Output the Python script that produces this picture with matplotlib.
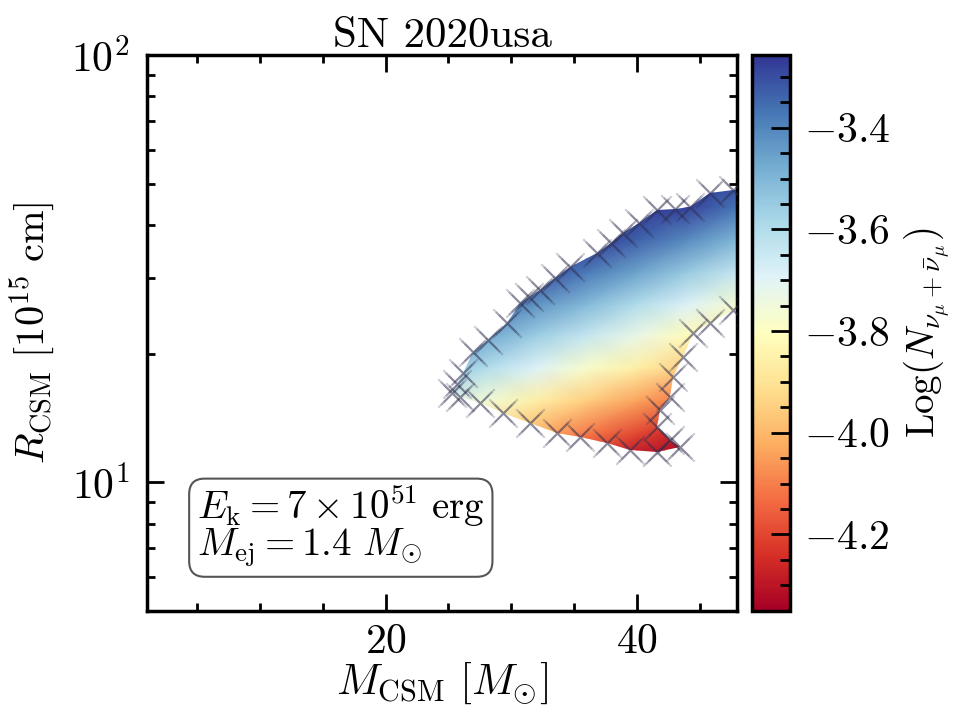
import numpy as np
import matplotlib
matplotlib.use("Agg")
import matplotlib.pyplot as plt
from matplotlib.patches import Polygon
from matplotlib.ticker import MultipleLocator, LogLocator, NullFormatter

plt.rcParams['font.family'] = 'serif'
plt.rcParams['font.serif'] = ['cmr10', 'DejaVu Serif']
plt.rcParams['mathtext.fontset'] = 'cm'
plt.rcParams['axes.formatter.use_mathtext'] = True

# ---------------- data ----------------
title = "SN 2020usa"
# value grid nodes (M_CSM in Msun, R_CSM in 1e15 cm)
m_nodes = [24, 28, 32, 36, 40, 44, 48]
r_nodes = [11, 13, 15.5, 18.5, 22, 26, 31, 37, 44, 52]
logN = [
    [-3.95, -4.05, -4.15, -4.25, -4.34, -4.42, -4.50],
    [-3.82, -3.92, -4.01, -4.11, -4.20, -4.28, -4.36],
    [-3.67, -3.76, -3.86, -3.95, -4.04, -4.12, -4.20],
    [-3.52, -3.60, -3.69, -3.78, -3.86, -3.95, -4.04],
    [-3.38, -3.47, -3.56, -3.64, -3.73, -3.82, -3.90],
    [-3.25, -3.34, -3.43, -3.51, -3.60, -3.69, -3.77],
    [-3.12, -3.20, -3.29, -3.38, -3.46, -3.55, -3.64],
    [-2.98, -3.07, -3.15, -3.24, -3.33, -3.41, -3.50],
    [-2.85, -2.93, -3.02, -3.11, -3.19, -3.28, -3.37],
    [-2.72, -2.80, -2.89, -2.98, -3.06, -3.15, -3.24],
]
# boundary of the allowed region (M_CSM, R_CSM), traced clockwise
edge_m = [25.26, 25.70, 26.16, 26.96, 28.15, 29.66, 30.70, 31.40, 32.29, 33.50,
          34.68, 36.83, 37.90, 38.89, 40.20, 41.60, 43.00, 44.23, 45.82, 47.65,
          49.0, 49.0, 47.65, 45.82, 44.46, 43.67, 42.87, 42.63, 41.84, 41.60,
          42.63, 43.43, 41.60, 39.45, 37.62, 35.47, 33.64, 31.49, 29.34, 27.51,
          25.92]
edge_r = [16.16, 17.00, 18.03, 20.18, 21.54, 23.60, 26.30, 27.20, 28.21, 30.00,
          31.93, 34.43, 36.20, 38.35, 40.50, 43.42, 43.70, 44.13, 47.60, 48.38,
          48.5, 25.0, 25.32, 23.61, 22.37, 19.66, 17.65, 15.84, 14.77, 13.48,
          12.56, 12.09, 11.78, 11.90, 12.36, 12.77, 13.05, 13.77, 14.53, 15.34,
          15.84]
cbar_ticks = [-4.2, -4.0, -3.8, -3.6, -3.4]
vmin, vmax = -4.35, -3.257
xlim = (1, 48)
ylim = (5, 100)

# ---------------- figure ----------------
fig = plt.figure(figsize=(9.64, 7.11), dpi=100)
ax = fig.add_axes([0.1522, 0.1411, 0.6128, 0.7815])
cax = fig.add_axes([0.780, 0.1411, 0.0395, 0.7815])

ax.set_yscale('log')
ax.set_xlim(*xlim)
ax.set_ylim(*ylim)

MM, RR = np.meshgrid(m_nodes, r_nodes)
mesh = ax.pcolormesh(MM, RR, np.array(logN), shading='gouraud',
                     cmap='RdYlBu', vmin=vmin, vmax=vmax, zorder=2)
poly = Polygon(np.column_stack([edge_m, edge_r]), closed=True,
               transform=ax.transData, facecolor='none', edgecolor='none')
mesh.set_clip_path(poly)

# fuzzy x-marker fringe along the boundary
for size in (160, 280, 420):
    ax.scatter(edge_m, edge_r, marker='x', s=size, c='#303050', alpha=0.24,
               linewidths=1.5, zorder=3, clip_on=True)

ax.set_title(title, fontsize=31, pad=6)
ax.set_xlabel(r'$M_{\rm CSM}\ [M_{\odot}]$', fontsize=31, labelpad=0)
ax.set_ylabel(r'$R_{\rm CSM}\ [10^{15}\ {\rm cm}]$', fontsize=29, labelpad=10)

ax.xaxis.set_major_locator(MultipleLocator(20))
ax.xaxis.set_minor_locator(MultipleLocator(5))
ax.yaxis.set_minor_locator(LogLocator(base=10, subs=np.arange(2, 10)))
ax.yaxis.set_minor_formatter(NullFormatter())
ax.tick_params(which='both', direction='in', top=True, right=True,
               labelsize=30, width=2.0)
ax.tick_params(axis='x', which='major', length=12, pad=9)
ax.tick_params(axis='y', which='major', length=12, pad=12)
ax.tick_params(which='minor', length=6)
for s in ax.spines.values():
    s.set_linewidth(2.5)

ax.text(0.085, 0.075,
        r'$E_{\rm k} = 7 \times 10^{51}\ {\rm erg}$' + '\n' + r'$M_{\rm ej} = 1.4\ M_{\odot}$',
        transform=ax.transAxes, fontsize=28, va='bottom', ha='left',
        linespacing=0.92,
        bbox=dict(boxstyle='round,pad=0.2,rounding_size=0.4', facecolor='white',
                  edgecolor='#555555', linewidth=1.5))

cb = fig.colorbar(mesh, cax=cax)
cb.set_ticks(cbar_ticks)
cb.ax.yaxis.set_minor_locator(MultipleLocator(0.05))
cb.ax.tick_params(which='both', direction='in', labelsize=30, width=2.0)
cb.ax.tick_params(which='major', length=14, pad=10)
cb.ax.tick_params(which='minor', length=7)
cb.outline.set_linewidth(2.5)
cb.set_label(r'${\rm Log}(N_{\nu_\mu+\bar{\nu}_\mu})$', fontsize=28, labelpad=8)

fig.savefig('out.png', dpi=100)
